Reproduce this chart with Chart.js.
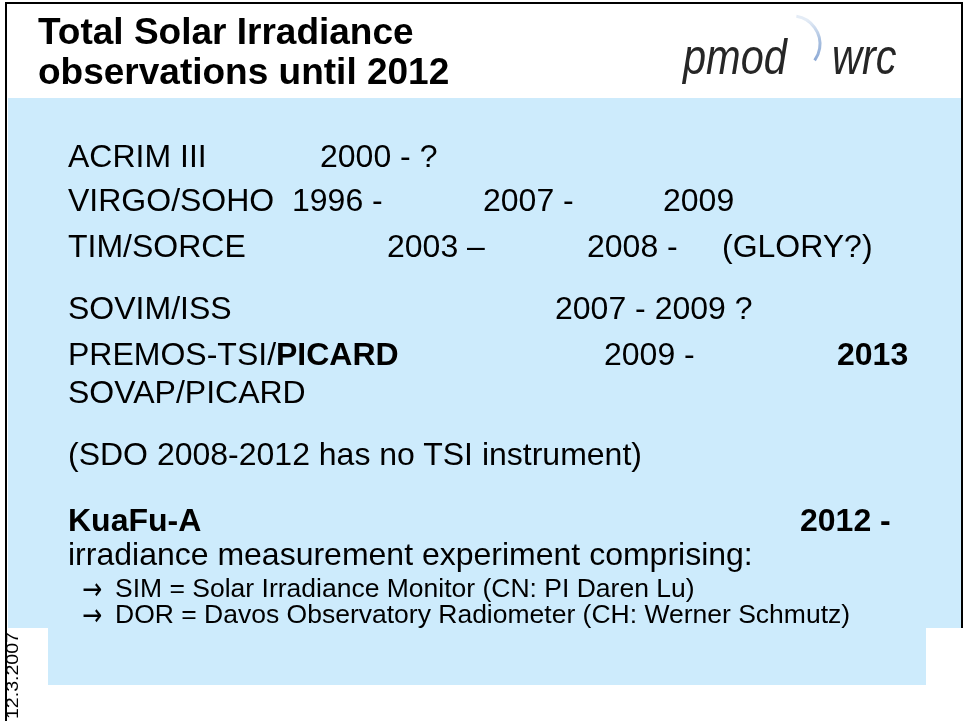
<!DOCTYPE html>
<html>
<head>
<meta charset="utf-8">
<script src="https://cdn.jsdelivr.net/npm/chart.js@4/dist/chart.umd.min.js"></script>
<style>
  html, body { margin: 0; padding: 0; background: #fff; overflow: hidden; }
  #stage { position: relative; width: 966px; height: 721px; }
  #slide { position: absolute; left: 0; top: 0; }
  .t { position: absolute; white-space: pre; font-family: "Liberation Sans", Arial, sans-serif; color: #000; line-height: 1; }
  .b { font-weight: bold; }
</style>
</head>
<body>
<div id="stage">
  <canvas id="slide" width="966" height="721"></canvas>
</div>
<script>
// ==================== SLIDE CONTENT ====================

const titleLines = ['Total Solar Irradiance', 'observations until 2012'];
const logoWords = ['pmod', 'wrc'];
const dateLabel = '12.3.2007';

const instruments = ['ACRIM III', 'VIRGO/SOHO', 'TIM/SORCE', 'SOVIM/ISS', 'PREMOS-TSI/PICARD', 'SOVAP/PICARD'];
const periods = [
  ['2000 - ?'],
  ['1996 -', '2007 -', '2009'],
  ['2003 \u2013', '2008 -', '(GLORY?)'],
  ['2007 - 2009 ?'],
  ['2009 -', '2013'],
  []
];
const sdoNote = '(SDO 2008-2012 has no TSI instrument)';
const kuafuName = 'KuaFu-A';
const kuafuStart = '2012 -';
const kuafuText = 'irradiance measurement experiment comprising:';
const kuafuParts = [
  'SIM = Solar Irradiance Monitor (CN: PI Daren Lu)',
  'DOR = Davos Observatory Radiometer (CH: Werner Schmutz)'
];

// ==================== LAYOUT ====================

const BODY_FS = 32;
const SUB_FS = 26.5;
const TITLE_FS = 37;
const rowBaselines = [167, 211, 257, 319, 365, 403];
const periodX = [[320], [292, 483, 663], [387, 587, 722], [555], [604, 837], []];
const periodBold = [[0], [0, 0, 0], [0, 0, 0], [0], [0, 1], []];
const boldSuffix = { 4: 'PICARD' };

const stage = document.getElementById('stage');

function addText(str, x, baseline, fs, bold) {
  const el = document.createElement('div');
  el.className = 't' + (bold ? ' b' : '');
  el.style.fontSize = fs + 'px';
  el.style.left = x + 'px';
  el.style.top = (baseline - 0.8465 * fs) + 'px';
  el.textContent = str;
  stage.appendChild(el);
  return el;
}

// panel background, frame and logo arc drawn by a Chart.js plugin
const slidePlugin = {
  id: 'slidePanel',
  beforeDraw(chart) {
    const ctx = chart.ctx;
    ctx.save();
    ctx.fillStyle = '#ffffff';
    ctx.fillRect(0, 0, chart.width, chart.height);
    ctx.fillStyle = '#cdebfc';
    ctx.fillRect(8, 98, 953, 530);
    ctx.fillRect(48, 628, 878, 57);
    ctx.strokeStyle = '#000';
    ctx.lineWidth = 2;
    ctx.beginPath();
    ctx.moveTo(6, 721);
    ctx.lineTo(6, 3);
    ctx.lineTo(962, 3);
    ctx.lineTo(962, 628);
    ctx.stroke();
    // logo arc
    const g = ctx.createLinearGradient(0, 20, 0, 60);
    g.addColorStop(0, '#e4ecf6');
    g.addColorStop(0.5, '#a9c0e0');
    g.addColorStop(1, '#8fabd6');
    ctx.strokeStyle = g;
    ctx.lineWidth = 3;
    ctx.beginPath();
    ctx.arc(792, 44, 28, -Math.PI * 0.45, Math.PI * 0.2);
    ctx.stroke();
    ctx.restore();
  }
};

new Chart(document.getElementById('slide'), {
  type: 'scatter',
  data: { datasets: [] },
  options: {
    responsive: false,
    animation: false,
    events: [],
    layout: { padding: 0 },
    plugins: { legend: { display: false }, tooltip: { enabled: false } },
    scales: { x: { display: false }, y: { display: false } }
  },
  plugins: [slidePlugin]
});

// title
addText(titleLines[0], 38, 44, TITLE_FS, true);
addText(titleLines[1], 38, 84, TITLE_FS, true);

// logo
const logoX = [683, 832];
logoWords.forEach((w, i) => {
  const el = addText(w, logoX[i], 74, 50, false);
  el.style.fontStyle = 'italic';
  el.style.color = '#262626';
  el.style.transformOrigin = '0 0';
  el.style.transform = 'scaleX(0.83)';
});

// instrument rows
instruments.forEach((name, i) => {
  const suffix = boldSuffix[i];
  if (suffix) {
    const head = name.slice(0, name.length - suffix.length);
    const el = addText(head, 68, rowBaselines[i], BODY_FS, false);
    const s = document.createElement('span');
    s.className = 'b';
    s.textContent = suffix;
    el.appendChild(s);
  } else {
    addText(name, 68, rowBaselines[i], BODY_FS, false);
  }
  periods[i].forEach((p, j) => {
    addText(p, periodX[i][j], rowBaselines[i], BODY_FS, periodBold[i][j] === 1);
  });
});

addText(sdoNote, 68, 465, BODY_FS, false);
addText(kuafuName, 68, 531, BODY_FS, true);
addText(kuafuStart, 800, 531, BODY_FS, true);
addText(kuafuText, 68, 565, BODY_FS, false);

const subBaselines = [597, 623];
kuafuParts.forEach((p, i) => {
  const a = addText('\u2192', 82, subBaselines[i] + 2, 30, false);
  a.style.fontFamily = '"DejaVu Sans", sans-serif';
  a.style.transformOrigin = '0 100%';
  a.style.transform = 'scaleX(0.8)';
  addText(p, 115, subBaselines[i], SUB_FS, false);
});

// date, rotated along the left edge
const d = addText(dateLabel, 0, 0, 17, false);
d.style.left = '4px';
d.style.top = '719px';
d.style.transformOrigin = '0 0';
d.style.transform = 'rotate(-90deg) scaleX(1.15)';
</script>
</body>
</html>
